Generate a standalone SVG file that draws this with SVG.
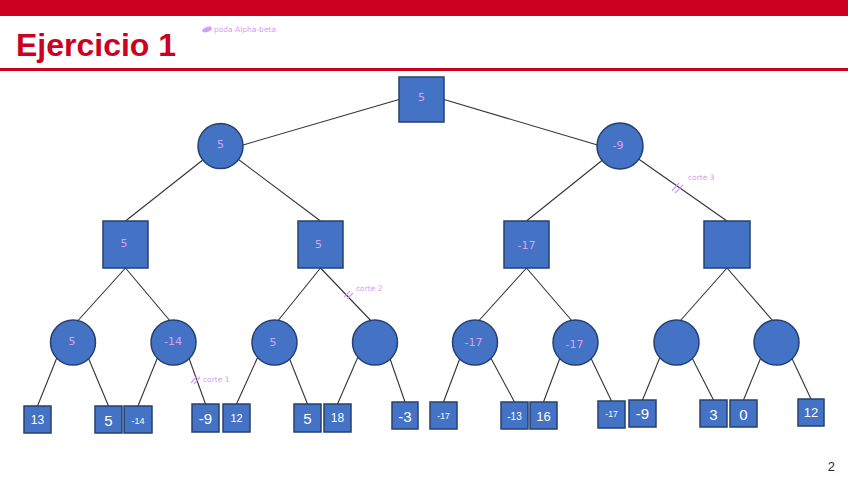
<svg xmlns="http://www.w3.org/2000/svg" width="848" height="477" viewBox="0 0 848 477">
<style>
.node{fill:#4472C4;stroke:#24406F;stroke-width:1.5}
.leaf{fill:#4472C4;stroke:#24406F;stroke-width:1.5}
.edge{stroke:#333333;stroke-width:1.1;fill:none}
.lbl{fill:#D8A2F2;font-family:"DejaVu Sans",sans-serif;font-size:11px;text-anchor:middle;dominant-baseline:central}
.lt{fill:#FFFFFF;font-family:"Liberation Sans",Arial,sans-serif;text-anchor:middle;dominant-baseline:central}
.note{fill:#D49CF2;font-family:"DejaVu Sans",sans-serif;font-size:7.5px}
.mark{stroke:#D49CF2;stroke-width:1.2}
</style>
<rect x="0" y="0" width="848" height="477" fill="#FFFFFF"/>
<rect x="0" y="0" width="848" height="16" fill="#CC0020"/>
<rect x="0" y="68" width="848" height="3" fill="#CC0020"/>
<text x="16" y="56" font-family="Liberation Sans,Arial,sans-serif" font-size="32" font-weight="bold" fill="#CC0020">Ejercicio 1</text>
<ellipse cx="207" cy="29.5" rx="5" ry="2.5" transform="rotate(-20 207 29.5)" fill="#D49CF2"/>
<text class="note" x="214" y="32" font-size="8.5">poda  Alpha-beta</text>
<text x="835" y="471" font-family="Liberation Sans,Arial,sans-serif" font-size="13" fill="#1F2A44" text-anchor="end">2</text>

<g id="connectors">
<line class="edge" x1="399" y1="99.5" x2="243" y2="145"/>
<line class="edge" x1="444" y1="99.5" x2="597.5" y2="145"/>
<line class="edge" x1="220.5" y1="146" x2="125.5" y2="221"/>
<line class="edge" x1="220.5" y1="146" x2="320.5" y2="221"/>
<line class="edge" x1="620" y1="146" x2="526.5" y2="221"/>
<line class="edge" x1="620" y1="146" x2="727" y2="221"/>
<line class="edge" x1="125.5" y1="268" x2="74" y2="325"/>
<line class="edge" x1="125.5" y1="268" x2="173.5" y2="325"/>
<line class="edge" x1="320.5" y1="268" x2="274.5" y2="325"/>
<line class="edge" x1="320.5" y1="268" x2="375" y2="325"/>
<line class="edge" x1="526.5" y1="268" x2="475" y2="325"/>
<line class="edge" x1="526.5" y1="268" x2="575.5" y2="325"/>
<line class="edge" x1="727" y1="268" x2="676.5" y2="325"/>
<line class="edge" x1="727" y1="268" x2="776.5" y2="325"/>
<line class="edge" x1="60" y1="350" x2="37.5" y2="406"/>
<line class="edge" x1="85" y1="350" x2="108.5" y2="406"/>
<line class="edge" x1="160.6" y1="350" x2="138" y2="406"/>
<line class="edge" x1="186" y1="350" x2="205.5" y2="404"/>
<line class="edge" x1="261" y1="350" x2="236.5" y2="404"/>
<line class="edge" x1="286" y1="350" x2="307.5" y2="404"/>
<line class="edge" x1="361" y1="350" x2="337.5" y2="404"/>
<line class="edge" x1="387" y1="350" x2="405" y2="402"/>
<line class="edge" x1="463" y1="350" x2="443.5" y2="402"/>
<line class="edge" x1="486.5" y1="350" x2="514.5" y2="402"/>
<line class="edge" x1="563" y1="350" x2="543.5" y2="402"/>
<line class="edge" x1="587" y1="350" x2="611.5" y2="401"/>
<line class="edge" x1="663" y1="350" x2="642.5" y2="400"/>
<line class="edge" x1="688" y1="350" x2="713.5" y2="400"/>
<line class="edge" x1="764" y1="350" x2="743.5" y2="400"/>
<line class="edge" x1="788" y1="350" x2="811" y2="399"/>
</g>

<g id="root"><rect class="node" x="399" y="77" width="45" height="45"/><text class="lbl" x="421.5" y="97">5</text></g>
<g id="n1a"><circle class="node" cx="220.5" cy="146" r="22.5"/><text class="lbl" x="220.5" y="144">5</text></g>
<g id="n1b"><circle class="node" cx="620" cy="146" r="23"/><text class="lbl" x="618" y="145" font-size="13">-9</text></g>

<g id="n2a"><rect class="node" x="103" y="221" width="45" height="47"/><text class="lbl" x="124" y="243">5</text></g>
<g id="n2b"><rect class="node" x="298" y="221" width="45" height="47"/><text class="lbl" x="318.5" y="244" font-size="13">5</text></g>
<g id="n2c"><rect class="node" x="504" y="221" width="45" height="47"/><text class="lbl" x="526.5" y="245">-17</text></g>
<g id="n2d"><rect class="node" x="704" y="221" width="46" height="47"/></g>

<g id="n3a"><circle class="node" cx="73" cy="342.5" r="22.5"/><text class="lbl" x="72" y="341">5</text></g>
<g id="n3b"><circle class="node" cx="173.5" cy="342.5" r="22.5"/><text class="lbl" x="173" y="341">-14</text></g>
<g id="n3c"><circle class="node" cx="274.5" cy="342.5" r="22.5"/><text class="lbl" x="273" y="342">5</text></g>
<g id="n3d"><circle class="node" cx="375" cy="342.5" r="22.5"/></g>
<g id="n3e"><circle class="node" cx="475" cy="342.5" r="22.5"/><text class="lbl" x="473.5" y="342">-17</text></g>
<g id="n3f"><circle class="node" cx="575.5" cy="342.5" r="22.5"/><text class="lbl" x="574.5" y="344">-17</text></g>
<g id="n3g"><circle class="node" cx="676.5" cy="342.5" r="22.5"/></g>
<g id="n3h"><circle class="node" cx="776.5" cy="342.5" r="22.5"/></g>

<g id="leaf1"><rect class="leaf" x="24" y="406" width="27" height="27"/><text class="lt" x="37.5" y="420" font-size="12">13</text></g>
<g id="leaf2"><rect class="leaf" x="95" y="406" width="27" height="27"/><text class="lt" x="108.5" y="420" font-size="15">5</text></g>
<g id="leaf3"><rect class="leaf" x="124" y="406" width="28" height="27"/><text class="lt" x="138" y="421" font-size="9">-14</text></g>
<g id="leaf4"><rect class="leaf" x="192" y="404" width="27" height="28"/><text class="lt" x="205.5" y="418" font-size="15">-9</text></g>
<g id="leaf5"><rect class="leaf" x="223" y="404" width="27" height="28"/><text class="lt" x="236.5" y="418" font-size="11">12</text></g>
<g id="leaf6"><rect class="leaf" x="294" y="404" width="27" height="28"/><text class="lt" x="307.5" y="418" font-size="15">5</text></g>
<g id="leaf7"><rect class="leaf" x="324" y="404" width="27" height="28"/><text class="lt" x="337.5" y="418" font-size="12">18</text></g>
<g id="leaf8"><rect class="leaf" x="392" y="402" width="26" height="27"/><text class="lt" x="405" y="416" font-size="15">-3</text></g>
<g id="leaf9"><rect class="leaf" x="430" y="402" width="27" height="27"/><text class="lt" x="443.5" y="416" font-size="8.5">-17</text></g>
<g id="leaf10"><rect class="leaf" x="501" y="402" width="27" height="27"/><text class="lt" x="514.5" y="416" font-size="10">-13</text></g>
<g id="leaf11"><rect class="leaf" x="530" y="402" width="27" height="27"/><text class="lt" x="543.5" y="416" font-size="13">16</text></g>
<g id="leaf12"><rect class="leaf" x="598" y="401" width="27" height="27"/><text class="lt" x="611.5" y="414" font-size="8.5">-17</text></g>
<g id="leaf13"><rect class="leaf" x="629" y="400" width="27" height="27"/><text class="lt" x="642.5" y="413.5" font-size="15">-9</text></g>
<g id="leaf14"><rect class="leaf" x="700" y="400" width="27" height="27"/><text class="lt" x="713.5" y="414" font-size="15">3</text></g>
<g id="leaf15"><rect class="leaf" x="730" y="400" width="27" height="27"/><text class="lt" x="743.5" y="414" font-size="15">0</text></g>
<g id="leaf16"><rect class="leaf" x="798" y="399" width="26" height="27"/><text class="lt" x="811" y="412.5" font-size="13">12</text></g>

<g id="cortes">
<line class="mark" x1="191" y1="383" x2="197" y2="376"/>
<line class="mark" x1="194" y1="384" x2="200" y2="377"/>
<text class="note" x="203" y="382">corte 1</text>
<line class="mark" x1="344" y1="297" x2="350" y2="291"/>
<line class="mark" x1="347" y1="299" x2="353" y2="293"/>
<text class="note" x="356" y="291">corte 2</text>
<line class="mark" x1="672" y1="191" x2="679" y2="183"/>
<line class="mark" x1="675" y1="193" x2="683" y2="185"/>
<text class="note" x="688" y="180">corte 3</text>
</g>
</svg>
